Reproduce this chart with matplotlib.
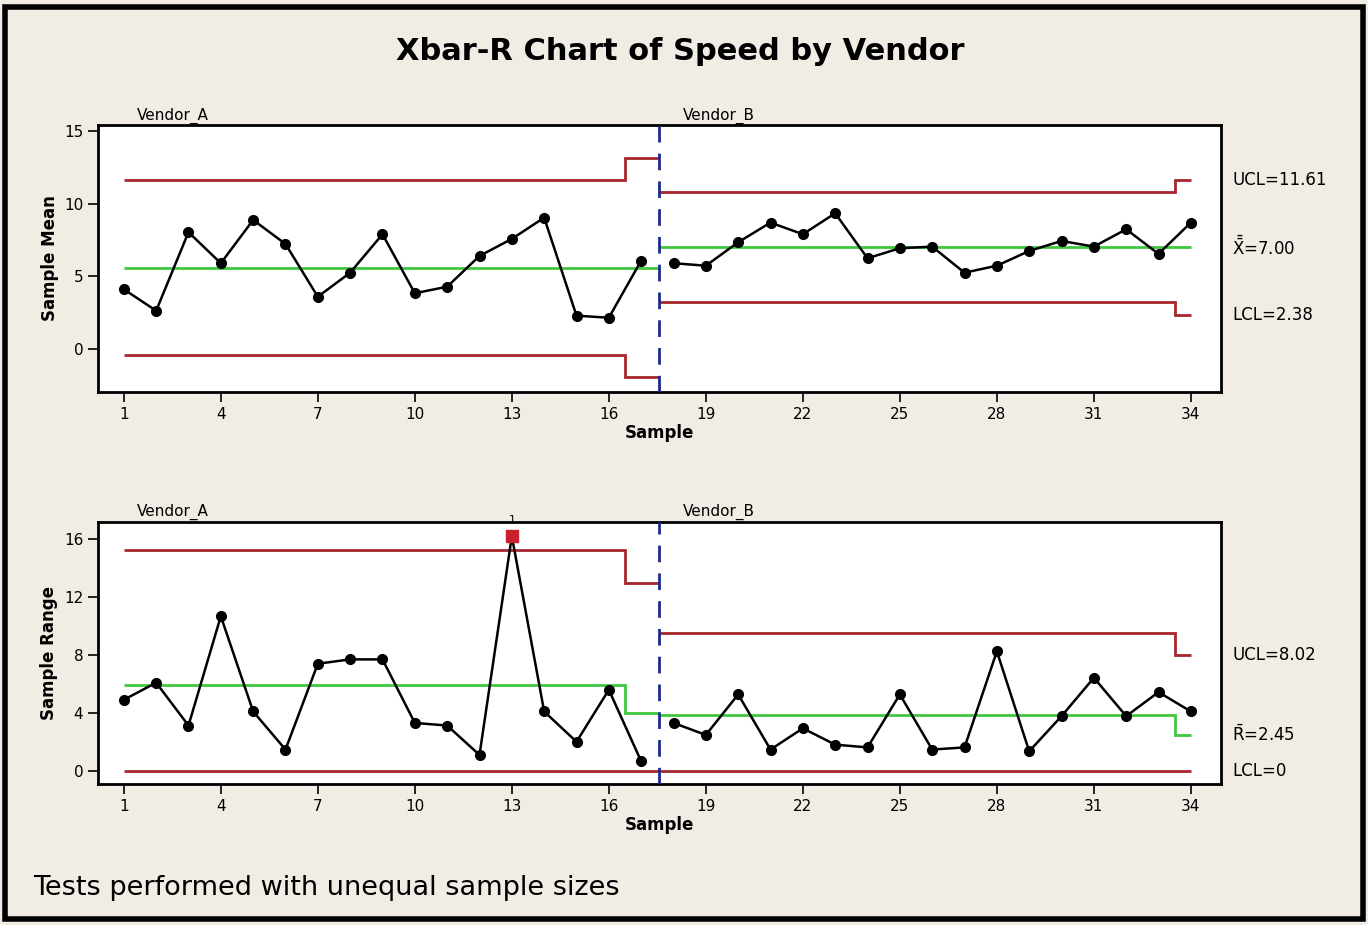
import numpy as np
import matplotlib.pyplot as plt
from matplotlib.patches import Rectangle

# sample means, vendor A (1-17) then vendor B (18-34)
means_a = [4.12, 2.65, 8.04, 5.91, 8.88, 7.23, 3.61, 5.26, 7.90, 3.85, 4.30, 6.41, 7.58, 9.04, 2.31, 2.17, 6.09]
means_b = [5.91, 5.74, 7.35, 8.70, 7.90, 9.34, 6.25, 6.94, 7.05, 5.26, 5.74, 6.75, 7.44, 7.05, 8.24, 6.55, 8.70]

# sample ranges
ranges_a = [4.90, 6.08, 3.12, 10.67, 4.09, 1.46, 7.39, 7.69, 7.69, 3.30, 3.12, 1.09, 16.2, 4.09, 2.00, 5.59, 0.65]
ranges_b = [3.30, 2.47, 5.27, 1.46, 2.93, 1.80, 1.61, 5.27, 1.46, 1.61, 8.25, 1.34, 3.77, 6.42, 3.77, 5.43, 4.09]

# control limits per sample (they change with sample size)
xbar_ucl_a = [11.6] * 16 + [13.1]
xbar_cl_a = [5.6] * 17
xbar_lcl_a = [-0.4] * 16 + [-1.9]
xbar_ucl_b = [10.78] * 16 + [11.61]
xbar_cl_b = [7.00] * 17
xbar_lcl_b = [3.22] * 16 + [2.38]

r_ucl_a = [15.25] * 16 + [12.98]
r_cl_a = [5.94] * 16 + [4.0]
r_lcl_a = [0.0] * 17
r_ucl_b = [9.52] * 16 + [8.02]
r_cl_b = [3.86] * 16 + [2.45]
r_lcl_b = [0.0] * 17

out_of_control = [13]  # range chart, test 1 failure
xticks = list(range(1, 35, 3))

samples_a = np.arange(1, 18)
samples_b = np.arange(18, 35)
split = 17.55  # stage boundary
edges_a = np.concatenate([[1], samples_a[:-1] + 0.5, [split]])
edges_b = np.concatenate([[split], samples_b[:-1] + 0.5, [34]])

RED = '#a8262e'
GREEN = '#3ec83e'
BLUE = '#1c2a8c'
BG = '#f1ece4'

fig = plt.figure(figsize=(13.68, 9.25), dpi=100, facecolor=BG)
fig.patches.append(Rectangle((0.004, 0.006), 0.992, 0.986, transform=fig.transFigure,
                             fill=False, edgecolor='black', linewidth=4))

fig.text(0.497, 0.944, 'Xbar-R Chart of Speed by Vendor', ha='center', va='center',
         fontsize=22, fontweight='bold')

ax1 = fig.add_axes([0.0716, 0.5762, 0.8209, 0.2887])
ax2 = fig.add_axes([0.0716, 0.1524, 0.8209, 0.2836])


def draw_chart(ax, vals_a, vals_b, limits_a, limits_b):
    for lim in limits_a:
        ax.stairs(lim[0], edges_a, color=lim[1], linewidth=2.0, baseline=None)
    for lim in limits_b:
        ax.stairs(lim[0], edges_b, color=lim[1], linewidth=2.0, baseline=None)
    ax.plot(samples_a, vals_a, color='black', marker='o', markersize=7, linewidth=1.8, zorder=4)
    ax.plot(samples_b, vals_b, color='black', marker='o', markersize=7, linewidth=1.8, zorder=4)
    ax.axvline(split, color=BLUE, linestyle=(0, (6, 4)), linewidth=2.0, zorder=5)
    ax.set_xlim(0.2, 34.93)
    ax.set_xticks(xticks)
    ax.tick_params(direction='out', length=7, width=1.2, labelsize=11)
    for s in ax.spines.values():
        s.set_linewidth(2)
    ax.set_facecolor('white')
    ax.set_xlabel('Sample', fontsize=12, fontweight='bold', labelpad=2)
    ax.text(1.4, 1.005, 'Vendor_A', transform=ax.get_xaxis_transform(), fontsize=11, va='bottom')
    ax.text(18.3, 1.005, 'Vendor_B', transform=ax.get_xaxis_transform(), fontsize=11, va='bottom')


draw_chart(ax1, means_a, means_b,
           [(xbar_ucl_a, RED), (xbar_cl_a, GREEN), (xbar_lcl_a, RED)],
           [(xbar_ucl_b, RED), (xbar_cl_b, GREEN), (xbar_lcl_b, RED)])
ax1.set_ylim(-2.93, 15.4)
ax1.set_yticks([0, 5, 10, 15])
ax1.set_ylabel('Sample Mean', fontsize=12, fontweight='bold')

draw_chart(ax2, ranges_a, ranges_b,
           [(r_ucl_a, RED), (r_cl_a, GREEN), (r_lcl_a, RED)],
           [(r_ucl_b, RED), (r_cl_b, GREEN), (r_lcl_b, RED)])
ax2.set_ylim(-0.92, 17.2)
ax2.set_yticks([0, 4, 8, 12, 16])
ax2.set_ylabel('Sample Range', fontsize=12, fontweight='bold')

for s in out_of_control:
    v = ranges_a[s - 1]
    ax2.plot([s], [v], marker='s', color='#c8202c', markersize=9, zorder=6, linestyle='none')
    ax2.annotate('1', (s, v), xytext=(0, 8), textcoords='offset points', ha='center',
                 va='bottom', fontsize=8, annotation_clip=False)

# limit labels on the right
lab_x = 1.01
ax1.text(lab_x, xbar_ucl_b[-1], 'UCL=11.61', transform=ax1.get_yaxis_transform(), va='center', fontsize=12)
ax1.text(lab_x, xbar_cl_b[-1], r'$\bar{\bar{\mathrm{X}}}$=7.00', transform=ax1.get_yaxis_transform(), va='center', fontsize=12)
ax1.text(lab_x, xbar_lcl_b[-1], 'LCL=2.38', transform=ax1.get_yaxis_transform(), va='center', fontsize=12)
ax2.text(lab_x, r_ucl_b[-1], 'UCL=8.02', transform=ax2.get_yaxis_transform(), va='center', fontsize=12)
ax2.text(lab_x, r_cl_b[-1], r'$\bar{\mathrm{R}}$=2.45', transform=ax2.get_yaxis_transform(), va='center', fontsize=12)
ax2.text(lab_x, r_lcl_b[-1], 'LCL=0', transform=ax2.get_yaxis_transform(), va='center', fontsize=12)

fig.text(0.024, 0.04, 'Tests performed with unequal sample sizes', fontsize=19.5, va='center')

fig.savefig('out.png', dpi=100, facecolor=BG)
